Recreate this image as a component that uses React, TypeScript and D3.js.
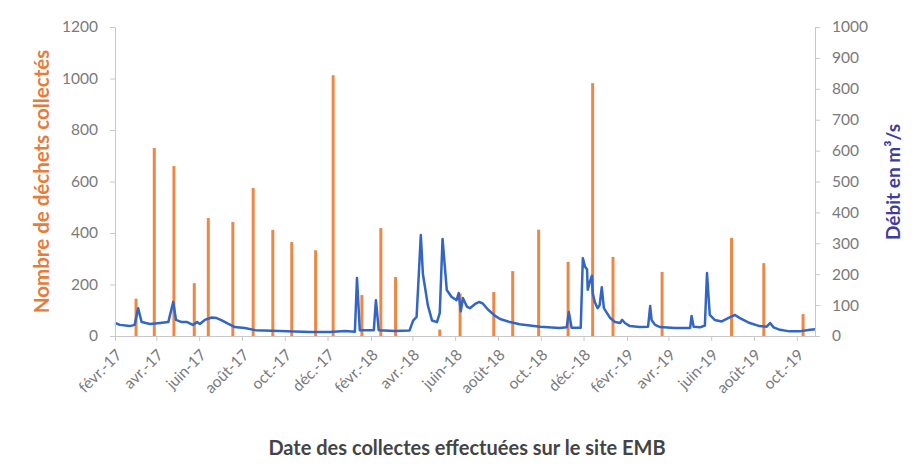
import React, { useEffect, useRef } from 'react';
import * as d3 from 'd3';

// collectes (nombre de déchets)
const collectDates = [
  '2017-03-03', '2017-03-29', '2017-04-26', '2017-05-25', '2017-06-14', '2017-07-19',
  '2017-08-17', '2017-09-14', '2017-10-11', '2017-11-14', '2017-12-09', '2018-01-19',
  '2018-02-15', '2018-03-08', '2018-05-10', '2018-06-08', '2018-07-26', '2018-08-22',
  '2018-09-28', '2018-11-09', '2018-12-14', '2019-01-12', '2019-03-23', '2019-06-30',
  '2019-08-15', '2019-10-10',
];
const wasteCounts = [
  145, 730, 660, 205, 458, 443,
  575, 412, 365, 333, 1013, 159,
  419, 229, 25, 165, 171, 252,
  413, 288, 982, 307, 249, 381,
  283, 85,
];

// débit (m3/s)
const flowDates = [
  '2017-02-01', '2017-02-08', '2017-02-22', '2017-03-01', '2017-03-06', '2017-03-11',
  '2017-03-23', '2017-04-06', '2017-04-18', '2017-04-25', '2017-04-29', '2017-05-07',
  '2017-05-15', '2017-05-23', '2017-05-29', '2017-06-02', '2017-06-09', '2017-06-19',
  '2017-06-26', '2017-07-04', '2017-07-12', '2017-07-22', '2017-08-05', '2017-08-20',
  '2017-09-24', '2017-11-06', '2017-12-04', '2017-12-26', '2018-01-09', '2018-01-12',
  '2018-01-16', '2018-02-05', '2018-02-08', '2018-02-12', '2018-03-07', '2018-03-28',
  '2018-04-02', '2018-04-07', '2018-04-13', '2018-04-16', '2018-04-19', '2018-04-23',
  '2018-04-29', '2018-05-06', '2018-05-10', '2018-05-14', '2018-05-20', '2018-05-27',
  '2018-06-03', '2018-06-06', '2018-06-09', '2018-06-12', '2018-06-18', '2018-06-22',
  '2018-06-29', '2018-07-05', '2018-07-10', '2018-07-18', '2018-07-28', '2018-08-04',
  '2018-08-18', '2018-09-01', '2018-09-30', '2018-10-28', '2018-11-07', '2018-11-10',
  '2018-11-14', '2018-11-27', '2018-11-30', '2018-12-03', '2018-12-06', '2018-12-07',
  '2018-12-10', '2018-12-13', '2018-12-14', '2018-12-17', '2018-12-21', '2018-12-24',
  '2018-12-27', '2018-12-30', '2019-01-08', '2019-01-15', '2019-01-22', '2019-01-25',
  '2019-01-29', '2019-02-05', '2019-02-19', '2019-03-03', '2019-03-06', '2019-03-08',
  '2019-03-13', '2019-03-20', '2019-04-10', '2019-05-02', '2019-05-04', '2019-05-07',
  '2019-05-16', '2019-05-23', '2019-05-26', '2019-05-30', '2019-06-06', '2019-06-16',
  '2019-06-28', '2019-07-05', '2019-07-12', '2019-07-26', '2019-08-09', '2019-08-19',
  '2019-08-24', '2019-08-29', '2019-09-07', '2019-09-21', '2019-10-05', '2019-10-20',
  '2019-10-27',
];
const flowValues = [
  42, 36, 32, 36, 90, 45,
  39, 42, 45, 110, 52, 45,
  45, 36, 45, 39, 52, 60,
  58, 50, 40, 29, 26, 19,
  16, 13, 13, 16, 14, 188,
  19, 19, 116, 19, 16, 18,
  50, 62, 327, 200, 158, 100,
  50, 45, 74, 314, 149, 126,
  116, 139, 80, 123, 94, 90,
  103, 110, 106, 85, 65, 55,
  45, 38, 30, 26, 28, 78,
  27, 27, 252, 225, 215, 150,
  175, 195, 140, 110, 90, 100,
  158, 90, 58, 45, 42, 52,
  42, 32, 29, 30, 97, 52,
  36, 29, 26, 26, 65, 30,
  28, 34, 204, 68, 52, 47,
  61, 68, 58, 42, 32, 30,
  42, 28, 20, 15, 15, 20,
  22,
];

const wasteTicks = [0, 200, 400, 600, 800, 1000, 1200];
const flowTicks = [0, 100, 200, 300, 400, 500, 600, 700, 800, 900, 1000];
const monthTicks = [
  '2017-02-01', '2017-04-01', '2017-06-01', '2017-08-01', '2017-10-01', '2017-12-01',
  '2018-02-01', '2018-04-01', '2018-06-01', '2018-08-01', '2018-10-01', '2018-12-01',
  '2019-02-01', '2019-04-01', '2019-06-01', '2019-08-01', '2019-10-01',
];
const monthLabels = [
  'févr.-17', 'avr.-17', 'juin-17', 'août-17', 'oct.-17', 'déc.-17',
  'févr.-18', 'avr.-18', 'juin-18', 'août-18', 'oct.-18', 'déc.-18',
  'févr.-19', 'avr.-19', 'juin-19', 'août-19', 'oct.-19',
];

export default function App() {
  const chartRef = useRef<SVGSVGElement>(null);

  useEffect(() => {
    if (!chartRef.current) return;
    const svg = d3.select(chartRef.current);
    svg.selectAll('*').remove();

    const width = 922;
    const height = 473;
    const margin = { top: 27, right: 107, bottom: 137, left: 115 };
    const font = 'Lato, "Open Sans", sans-serif';
    const parse = d3.utcParse('%Y-%m-%d');
    const baseY = height - margin.bottom;

    const x = d3.scaleUtc()
      .domain([parse('2017-02-01')!, parse('2019-10-27')!])
      .range([margin.left, width - margin.right]);
    const yWaste = d3.scaleLinear().domain([0, 1200]).range([baseY, margin.top]);
    const yFlow = d3.scaleLinear().domain([0, 1000]).range([baseY, margin.top]);

    // bars (thin columns)
    svg.append('g')
      .selectAll('line')
      .data(collectDates.map((d, i) => ({ date: parse(d)!, value: wasteCounts[i] })))
      .enter()
      .append('line')
      .attr('x1', d => x(d.date))
      .attr('x2', d => x(d.date))
      .attr('y1', yWaste(0))
      .attr('y2', d => yWaste(d.value))
      .attr('stroke', '#EE8745')
      .attr('stroke-width', 3);

    // flow line
    const flow = flowDates.map((d, i) => ({ date: parse(d)!, value: flowValues[i] }));
    const line = d3.line<{ date: Date; value: number }>()
      .x(d => x(d.date))
      .y(d => yFlow(d.value));
    svg.append('path')
      .datum(flow)
      .attr('fill', 'none')
      .attr('stroke', '#3366C4')
      .attr('stroke-width', 2.5)
      .attr('stroke-linejoin', 'round')
      .attr('d', line);

    const styleAxis = (g: any) => {
      g.select('.domain').attr('stroke', '#C8C8C8');
      g.selectAll('.tick line').attr('stroke', '#C8C8C8');
      g.selectAll('text').attr('fill', '#7A7A7A').attr('font-size', 15.5).attr('font-family', font);
    };

    // left axis
    svg.append('g')
      .attr('transform', `translate(${margin.left},0)`)
      .call(d3.axisLeft(yWaste).tickValues(wasteTicks).tickFormat(d3.format('d')).tickSize(5).tickPadding(12).tickSizeOuter(0))
      .call(styleAxis);

    // right axis
    svg.append('g')
      .attr('transform', `translate(${width - margin.right},0)`)
      .call(d3.axisRight(yFlow).tickValues(flowTicks).tickFormat(d3.format('d')).tickSize(5).tickPadding(12).tickSizeOuter(0))
      .call(styleAxis);

    // x axis (labels drawn separately, rotated 45°)
    svg.append('g')
      .attr('transform', `translate(0,${baseY})`)
      .call(d3.axisBottom(x)
        .tickValues(monthTicks.map(d => parse(d)!))
        .tickFormat(() => '')
        .tickSize(5)
        .tickSizeOuter(0))
      .call(styleAxis);

    svg.append('g')
      .selectAll('text')
      .data(monthTicks.map((d, i) => ({ date: parse(d)!, label: monthLabels[i] })))
      .enter()
      .append('text')
      .style('transform', d => `translate(${x(d.date) + 4}px, ${baseY + 16}px) rotate(-45deg)`)
      .attr('dy', '0.35em')
      .attr('text-anchor', 'end')
      .attr('font-family', font)
      .attr('font-size', 15.5)
      .attr('fill', '#7A7A7A')
      .text(d => d.label);

    // axis titles
    svg.append('text')
      .attr('transform', `translate(42,${(margin.top + baseY) / 2}) rotate(-90)`)
      .attr('dy', '0.35em')
      .attr('text-anchor', 'middle')
      .attr('font-family', font)
      .attr('font-size', 20.5)
      .attr('font-weight', 'bold')
      .attr('fill', '#E67C3B')
      .text('Nombre de déchets collectés');

    svg.append('text')
      .attr('transform', `translate(893,182) rotate(-90)`)
      .attr('dy', '0.35em')
      .attr('text-anchor', 'middle')
      .attr('font-family', font)
      .attr('font-size', 19)
      .attr('font-weight', 'bold')
      .attr('fill', '#3D3D9E')
      .text('Débit en m³/s');

    svg.append('text')
      .attr('x', 467)
      .attr('y', 455)
      .attr('text-anchor', 'middle')
      .attr('font-family', font)
      .attr('font-size', 20)
      .attr('font-weight', 'bold')
      .attr('fill', '#444444')
      .text('Date des collectes effectuées sur le site EMB');
  }, []);

  return (
    <div style={{ position: 'absolute', left: 0, top: 0, background: '#fff' }}>
      <svg ref={chartRef} width={922} height={473} />
    </div>
  );
}
